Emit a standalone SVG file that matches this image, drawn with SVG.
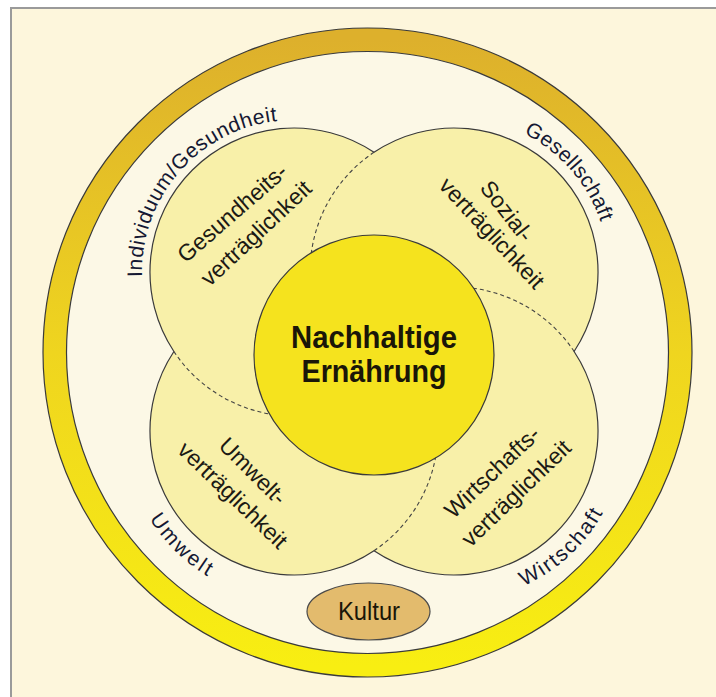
<svg xmlns="http://www.w3.org/2000/svg" width="716" height="697" viewBox="0 0 716 697">
<defs>
<linearGradient id="ringGrad" x1="0" y1="0" x2="0" y2="1">
<stop offset="0" stop-color="#DDB02C"/>
<stop offset="0.5" stop-color="#EFD51F"/>
<stop offset="1" stop-color="#F8EE12"/>
</linearGradient>
<path id="pIndiv" d="M144.3 298.4 A152 152 0 0 1 299.3 120.1"/>
<path id="pGes" d="M507 126.3 A155 155 0 0 1 605.6 239.8"/>
<path id="pUmw" d="M141.2 503.3 A170 170 0 0 0 225 585.4"/>
<path id="pWir" d="M506.5 592.7 A170 170 0 0 0 611.6 494.7"/>
</defs>
<style>
.lbl{font-family:"Liberation Sans",Arial,sans-serif;font-size:23px;fill:#1c1a14;text-anchor:middle}
.outer{font-family:"Liberation Sans",Arial,sans-serif;font-size:21px;fill:#151833}
.line{fill:none;stroke:#3a3a3a;stroke-width:1.2}
.dash{fill:none;stroke:#444;stroke-width:1.1;stroke-dasharray:4 3}
.petal{fill:#F8F0A9;stroke:none}
</style>
<rect x="0" y="0" width="716" height="697" fill="#ffffff"/>
<rect x="11" y="8" width="710" height="700" fill="#FDF6DC" stroke="#9a9a9a" stroke-width="2"/>
<g id="ring">
<circle cx="367.5" cy="352.5" r="312.7" fill="none" stroke="url(#ringGrad)" stroke-width="23.5"/>
<circle cx="367.5" cy="352.5" r="324.5" class="line"/>
<circle cx="367.5" cy="352.5" r="301" fill="#FCF8E6" stroke="#3a3a3a" stroke-width="1.2"/>
</g>
<g id="petals">
<circle class="petal" cx="454" cy="272" r="144"/>
<circle class="petal" cx="454" cy="431" r="144"/>
<circle class="petal" cx="294" cy="431" r="144"/>
<circle class="petal" cx="294" cy="272" r="144"/>
</g>
<g id="connectors">
<path class="line" d="M374 152.3 A144 144 0 0 1 574.1 351.5 A144 144 0 0 1 374 550.7 A144 144 0 0 1 173.9 351.5 A144 144 0 0 1 374 152.3 Z"/>
<path class="dash" d="M374 152.3 A144 144 0 0 0 374 391.7"/>
<path class="dash" d="M574.1 351.5 A144 144 0 0 0 333.9 351.5"/>
<path class="dash" d="M173.9 351.5 A144 144 0 0 0 414.1 351.5"/>
<path class="dash" d="M374 550.7 A144 144 0 0 0 374 311.3"/>
</g>
<g id="center">
<circle cx="374" cy="355" r="120" fill="#F5E31E" stroke="#3a3a3a" stroke-width="1.2"/>
<text x="374" y="348" text-anchor="middle" font-family="Liberation Sans,Arial,sans-serif" font-weight="bold" font-size="32" fill="#1a1608" textLength="166" lengthAdjust="spacingAndGlyphs">Nachhaltige</text>
<text x="374" y="382" text-anchor="middle" font-family="Liberation Sans,Arial,sans-serif" font-weight="bold" font-size="32" fill="#1a1608" textLength="145" lengthAdjust="spacingAndGlyphs">Ernährung</text>
</g>
<g id="gesundheit">
<text class="lbl" transform="translate(237.4 218.9) rotate(-41)">Gesundheits-</text>
<text class="lbl" transform="translate(261.4 238.9) rotate(-43)">verträglichkeit</text>
</g>
<g id="sozial">
<text class="lbl" transform="translate(500.7 215.9) rotate(52)">Sozial-</text>
<text class="lbl" transform="translate(486.2 238.5) rotate(47)">verträglichkeit</text>
</g>
<g id="umweltv">
<text class="lbl" transform="translate(247.3 476.7) rotate(45)">Umwelt-</text>
<text class="lbl" transform="translate(227.4 500.8) rotate(44)">verträglichkeit</text>
</g>
<g id="wirtschaftv">
<text class="lbl" transform="translate(497.5 477.8) rotate(-43.5)">Wirtschafts-</text>
<text class="lbl" transform="translate(521.6 498.8) rotate(-44)">verträglichkeit</text>
</g>
<g id="outer-labels">
<text class="outer" letter-spacing="0.6"><textPath href="#pIndiv" startOffset="50%" text-anchor="middle">Individuum/Gesundheit</textPath></text>
<text class="outer" letter-spacing="0.4"><textPath href="#pGes" startOffset="50%" text-anchor="middle">Gesellschaft</textPath></text>
<text class="outer" letter-spacing="2.5"><textPath href="#pUmw" startOffset="50%" text-anchor="middle">Umwelt</textPath></text>
<text class="outer" letter-spacing="1.8"><textPath href="#pWir" startOffset="50%" text-anchor="middle">Wirtschaft</textPath></text>
</g>
<g id="kultur">
<ellipse cx="368.5" cy="611.5" rx="61.5" ry="28.5" fill="#E3BB6D" stroke="#4a4a4a" stroke-width="1.2"/>
<text x="369" y="620" text-anchor="middle" font-family="Liberation Sans,Arial,sans-serif" font-size="26" fill="#1a1608" textLength="62" lengthAdjust="spacingAndGlyphs">Kultur</text>
</g>
</svg>
